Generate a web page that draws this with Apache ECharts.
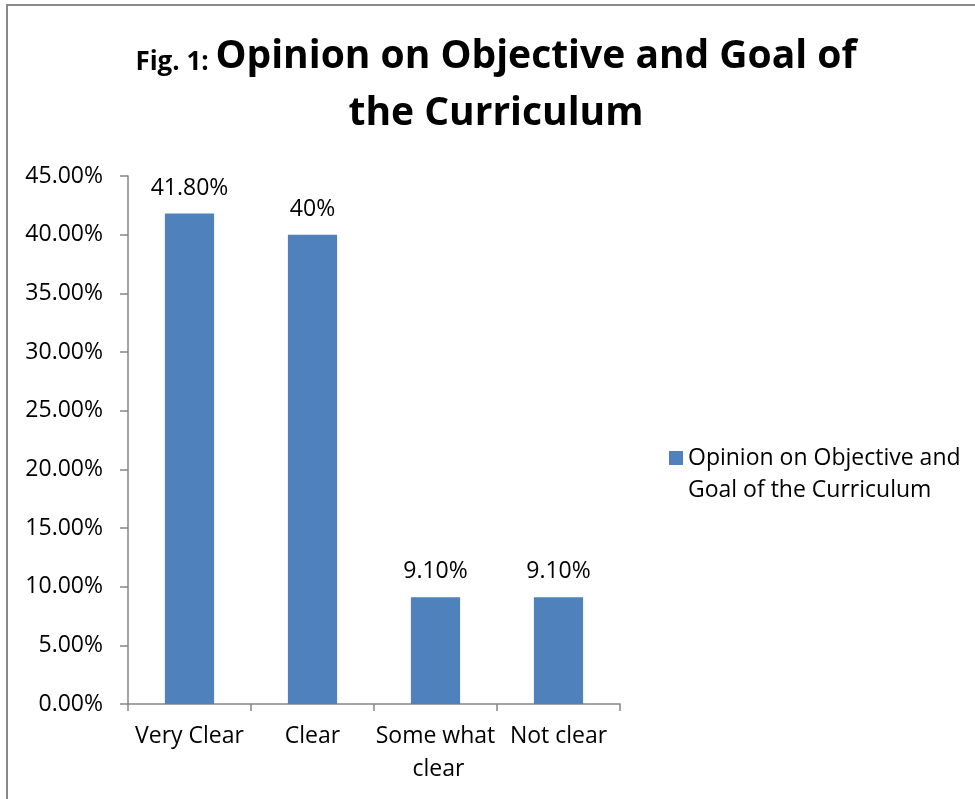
<!DOCTYPE html>
<html>
<head>
<meta charset="utf-8">
<script src="https://cdn.jsdelivr.net/npm/echarts@6/dist/echarts.min.js"></script>
<style>
html,body{margin:0;padding:0;background:#fff;}
#chart{width:975px;height:799px;}
</style>
</head>
<body>
<div id="chart"></div>
<script>
const categories = ['Very Clear', 'Clear', 'Some what clear', 'Not clear'];
const values = [0.418, 0.40, 0.091, 0.091];
const valueLabels = ['41.80%', '40%', '9.10%', '9.10%'];
const seriesName = 'Opinion on Objective and Goal of the Curriculum';
const yMin = 0, yMax = 0.45, yStep = 0.05;

const FONT = '"Open Sans", sans-serif';
const chart = echarts.init(document.getElementById('chart'), null, {renderer: 'canvas'});
chart.setOption({
  backgroundColor: '#fff',
  animation: false,
  title: {
    text: '{s|Fig. 1: }{b|Opinion on Objective and Goal of}\n{b|the Curriculum}',
    left: 491,
    top: 14,
    textAlign: 'center',
    textStyle: {
      rich: {
        s: {fontFamily: FONT, fontWeight: 'bold', fontSize: 26, color: '#000', verticalAlign: 'bottom', lineHeight: 57},
        b: {fontFamily: FONT, fontWeight: 'bold', fontSize: 39, color: '#000', verticalAlign: 'bottom', lineHeight: 57}
      }
    }
  },
  graphic: [{
    type: 'rect', silent: true,
    shape: {x: 7, y: 5, width: 1000, height: 900},
    style: {fill: 'none', stroke: '#8a8a8a', lineWidth: 2}
  }],
  legend: {
    left: 664,
    top: 405,
    itemWidth: 14,
    itemHeight: 14,
    itemGap: 8,
    icon: 'rect',
    formatter: function () { return '\nOpinion on Objective and\nGoal of the Curriculum'; },
    textStyle: {fontFamily: FONT, fontSize: 23, color: '#000', lineHeight: 32}
  },
  grid: {left: 128, right: 355, top: 176, bottom: 95, containLabel: false},
  xAxis: {
    type: 'category',
    data: categories,
    axisLine: {lineStyle: {color: '#868686', width: 1.5}},
    axisTick: {show: true, alignWithLabel: false, length: 7, lineStyle: {color: '#868686', width: 1.5}},
    axisLabel: {
      interval: 0, margin: 16, color: '#000', fontFamily: FONT, fontSize: 23,
      lineHeight: 33, width: 122, overflow: 'break'
    }
  },
  yAxis: {
    type: 'value',
    min: yMin, max: yMax, interval: yStep,
    axisLine: {show: true, lineStyle: {color: '#868686', width: 1.5}},
    axisTick: {show: true, length: 8, lineStyle: {color: '#868686', width: 1.5}},
    splitLine: {show: false},
    axisLabel: {
      margin: 25, color: '#000', fontFamily: FONT, fontSize: 23,
      formatter: function (v) { return (v * 100).toFixed(2) + '%'; }
    }
  },
  series: [{
    name: seriesName,
    type: 'bar',
    data: values,
    barWidth: '40%',
    itemStyle: {color: '#4F81BD'},
    label: {
      show: true, position: 'top', distance: 14,
      color: '#000', fontFamily: FONT, fontSize: 23,
      formatter: function (p) { return valueLabels[p.dataIndex]; }
    }
  }]
});
</script>
</body>
</html>
